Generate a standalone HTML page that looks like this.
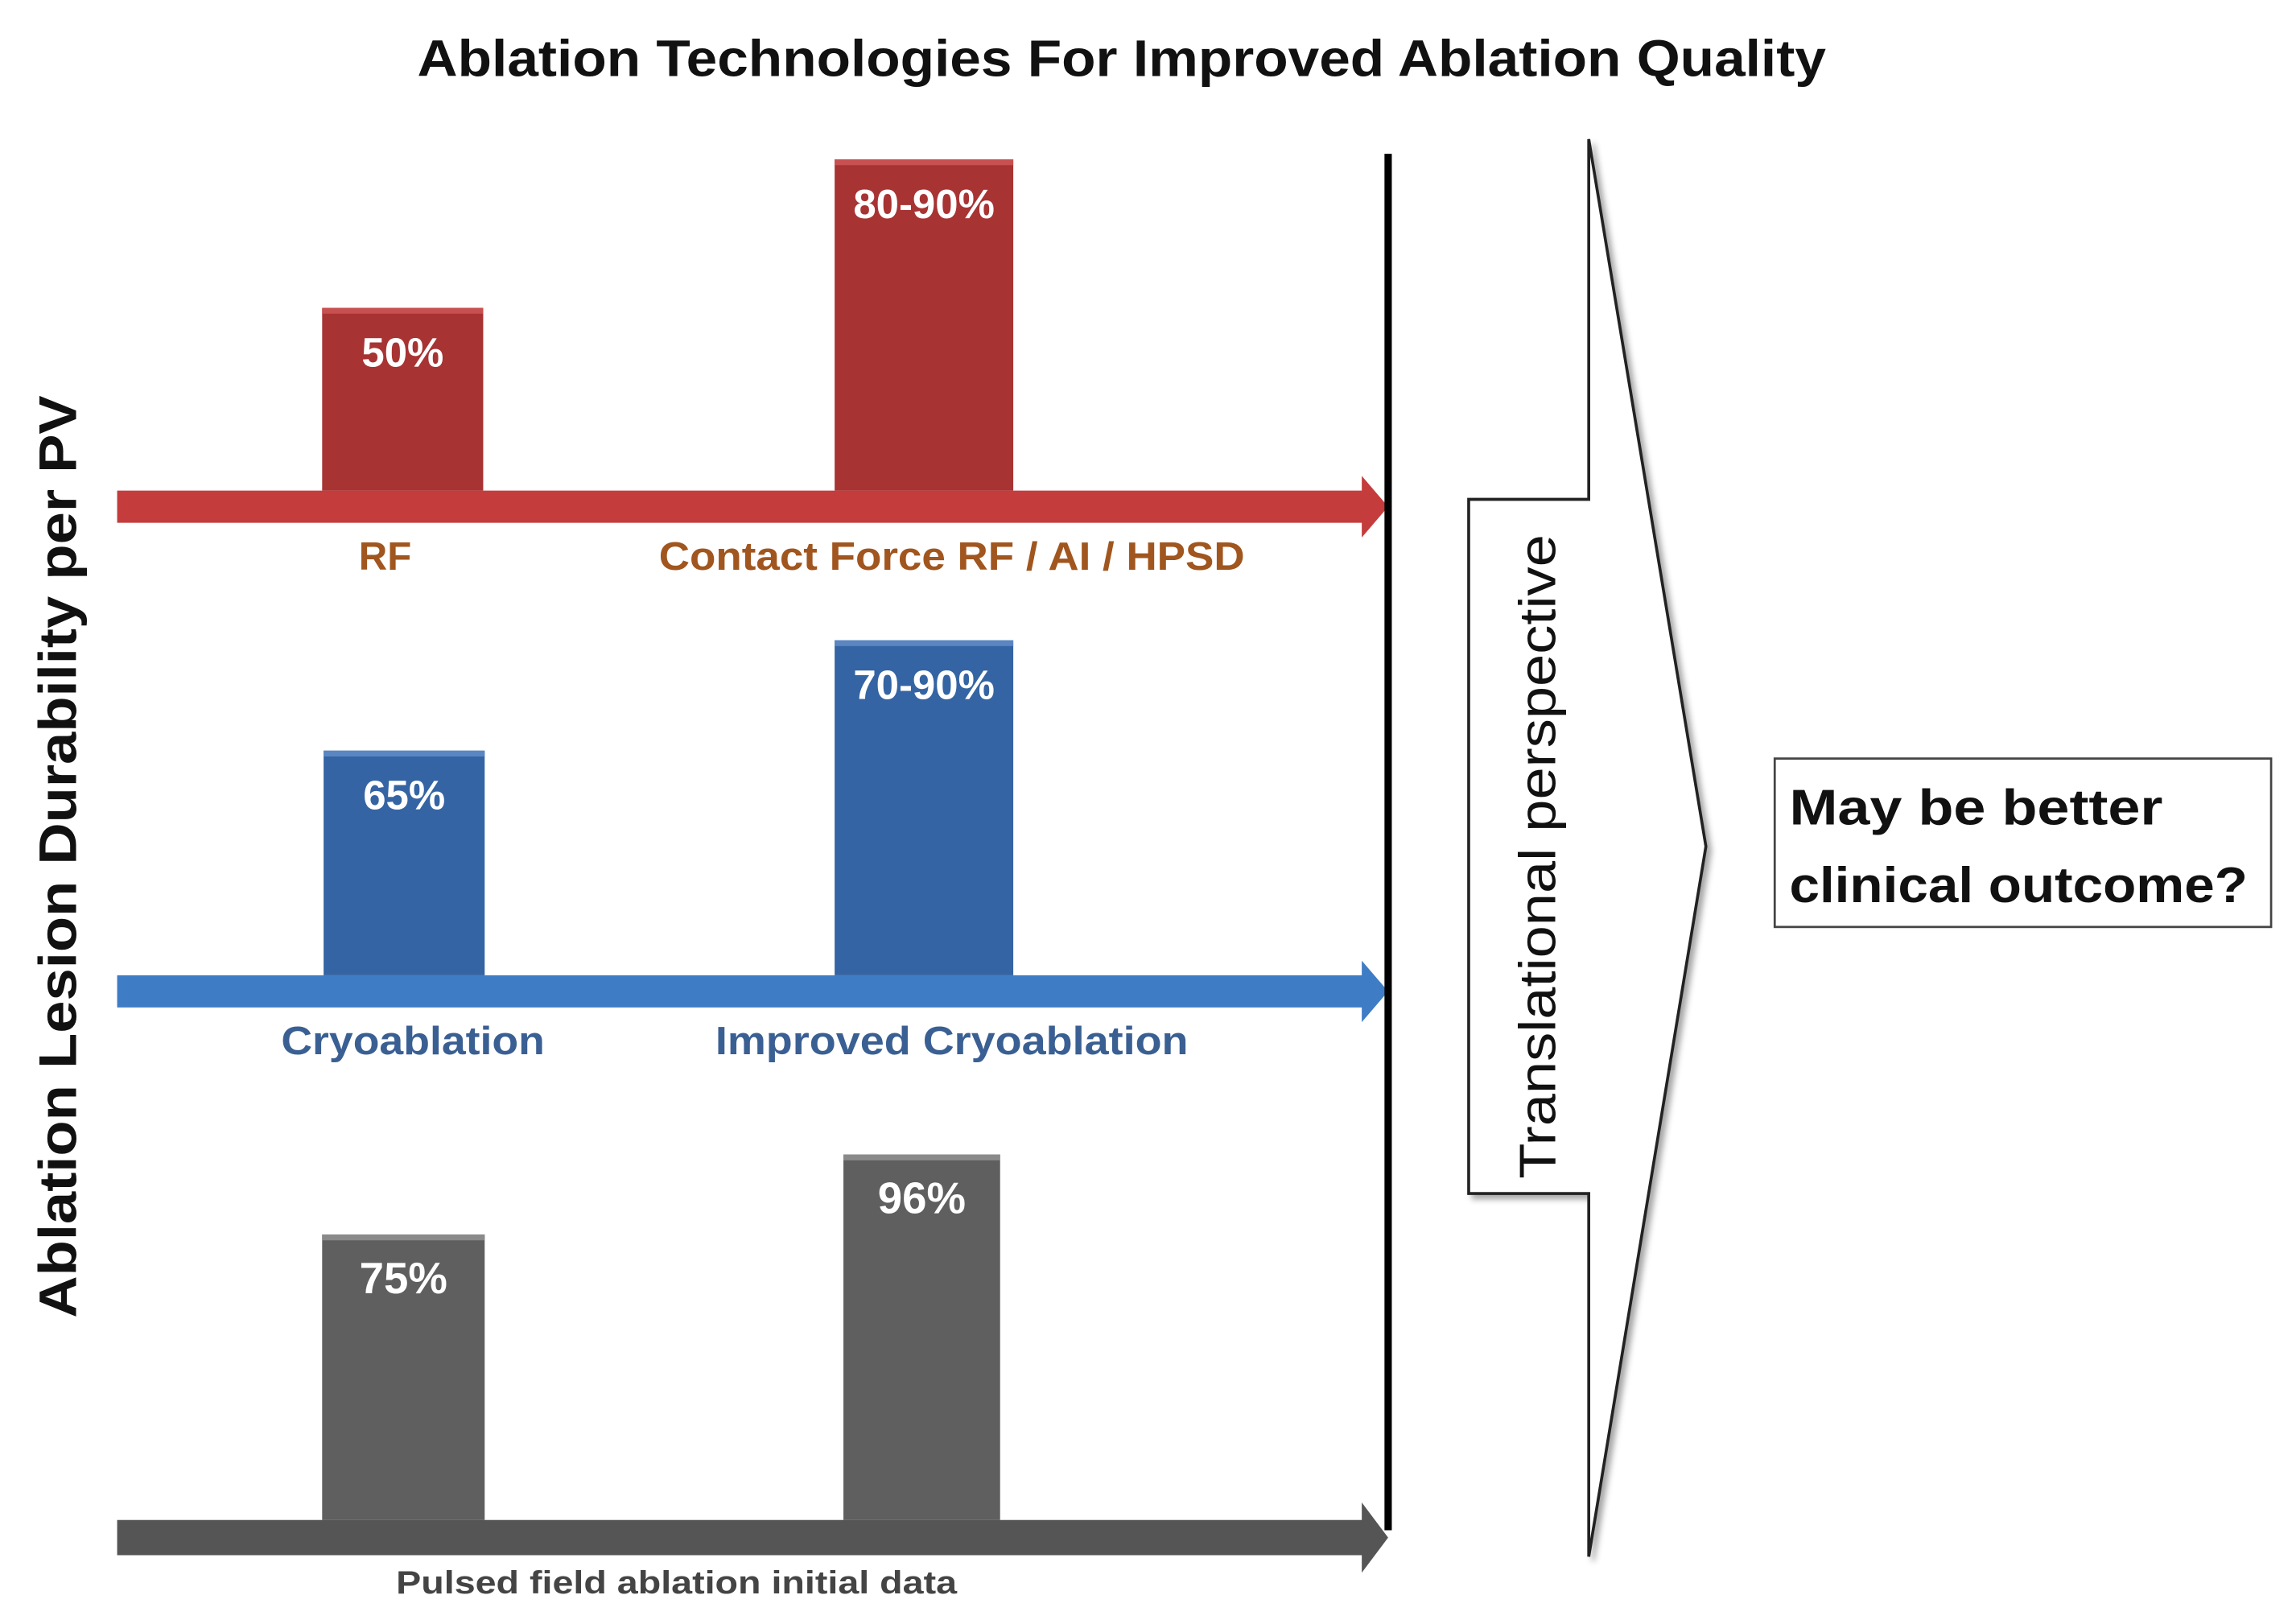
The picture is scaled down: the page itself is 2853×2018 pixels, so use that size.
<!DOCTYPE html>
<html><head><meta charset="utf-8"><style>
html,body{margin:0;padding:0;background:#fff;}
svg{display:block;}
text{font-family:"Liberation Sans","DejaVu Sans",sans-serif;}
</style></head><body>
<svg id="chart" width="2853" height="2018" viewBox="0 0 1568 1109" preserveAspectRatio="none" xmlns="http://www.w3.org/2000/svg">
<defs>
<filter id="sh" x="-10%" y="-10%" width="130%" height="130%"><feDropShadow dx="3" dy="3" stdDeviation="2" flood-color="#000" flood-opacity="0.35"/></filter>
</defs>
<text x="766" y="52" text-anchor="middle" font-size="35" font-weight="bold" fill="#111" textLength="962" lengthAdjust="spacingAndGlyphs">Ablation Technologies For Improved Ablation Quality</text>
<text transform="translate(52,585) rotate(-90)" text-anchor="middle" font-size="36" font-weight="bold" fill="#111" textLength="630" lengthAdjust="spacingAndGlyphs">Ablation  Lesion  Durability  per PV</text>
<g id="rows"></g>
<line x1="948" y1="105" x2="948" y2="1045" stroke="#000" stroke-width="5"/>
<polygon points="1003,341 1085,341 1085,95 1165,578 1085,1063 1085,815 1003,815" fill="#fff" stroke="#222" stroke-width="2" filter="url(#sh)"/>
<text transform="translate(1062,585) rotate(-90)" text-anchor="middle" font-size="35" fill="#111" textLength="440" lengthAdjust="spacingAndGlyphs">Translational perspective</text>
<rect x="1212" y="518" width="339" height="115" fill="#fff" stroke="#444" stroke-width="1.5"/>
<text font-size="34" font-weight="bold" fill="#111"><tspan x="1222" y="563" textLength="255" lengthAdjust="spacingAndGlyphs">May be better</tspan><tspan x="1222" y="616" textLength="313" lengthAdjust="spacingAndGlyphs">clinical outcome?</tspan></text>
</svg>
<script>
const groups = ["RF", "Cryo", "PFA"];
const categoriesRF = ["RF", "Contact Force RF / AI / HPSD"];
const categoriesCryo = ["Cryoablation", "Improved Cryoablation"];
const valuesRF = [48, 87];
const valuesCryo = [59, 88];
const valuesPFA = [75, 96];
const labelsRF = ["50%", "80-90%"];
const labelsCryo = ["65%", "70-90%"];
const labelsPFA = ["75%", "96%"];
const pfaCaption = "Pulsed field ablation initial data";

const NS = "http://www.w3.org/2000/svg";
const rowsG = document.getElementById("rows");
const scaleY = v => v * 2.6;
const rows = [
  {vals: valuesRF, labels: labelsRF, cats: categoriesRF, base: 335, bar: "#a83333", top: "#c85050", arrow: "#c43c3c", catColor: "#a0561e", catY: 389, xs: [[220,110],[570,122]], ah: 16, cx: [263, 650], cw: [36, 400]},
  {vals: valuesCryo, labels: labelsCryo, cats: categoriesCryo, base: 666, bar: "#3464a3", top: "#5a86c2", arrow: "#3f7cc6", catColor: "#3a5f93", catY: 720, xs: [[221,110],[570,122]], ah: 16, cx: [282, 650], cw: [180, 323]},
  {vals: valuesPFA, labels: labelsPFA, cats: null, base: 1038, bar: "#5f5f5f", top: "#8a8a8a", arrow: "#555555", catColor: "#444", catY: 0, xs: [[220,111],[576,107]], ah: 20}
];
function mk(tag, attrs) { const e = document.createElementNS(NS, tag); for (const k in attrs) e.setAttribute(k, attrs[k]); return e; }
rows.forEach((r, ri) => {
  const g = mk("g", {});
  
  
  const thick = ri === 2 ? 24 : 22;
  const y0 = r.base, y1 = r.base + thick, mid = (y0 + y1) / 2;
  const arrow = mk("polygon", {points: `80,${y0} 930,${y0} 930,${y0-r.ah/2-2} 948,${mid} 930,${y1+r.ah/2+2} 930,${y1} 80,${y1}`, fill: r.arrow});
  
  
  g.appendChild(arrow);
  r.vals.forEach((v, i) => {
    const h = scaleY(v), x = r.xs[i][0], w = r.xs[i][1];
    const b = mk("rect", {x: x, y: r.base - h, width: w, height: h, fill: r.bar});
    
    
    g.appendChild(b);
    g.appendChild(mk("rect", {x: x, y: r.base - h, width: w, height: 4, fill: r.top}));
    const t = mk("text", {x: x + w / 2, y: r.base - h + 40, "text-anchor": "middle", "font-size": ri === 2 ? 30 : 28, "font-weight": "bold", fill: "#fff"});
    t.textContent = r.labels[i];
    
    
    g.appendChild(t);
  });
  if (r.cats) {
    r.cats.forEach((c, i) => {
      const t = mk("text", {x: r.cx[i], y: r.catY, "text-anchor": "middle", "font-size": 27, "font-weight": "bold", fill: r.catColor, textLength: r.cw[i], lengthAdjust: "spacingAndGlyphs"});
      t.textContent = c;
      
      
      g.appendChild(t);
    });
  } else {
    const t = mk("text", {x: 462, y: 1088, "text-anchor": "middle", "font-size": 22, "font-weight": "bold", fill: "#444", textLength: 383, lengthAdjust: "spacingAndGlyphs"});
    t.textContent = pfaCaption;
    
    
    g.appendChild(t);
  }
  rowsG.appendChild(g);
});
</script>
</body></html>
